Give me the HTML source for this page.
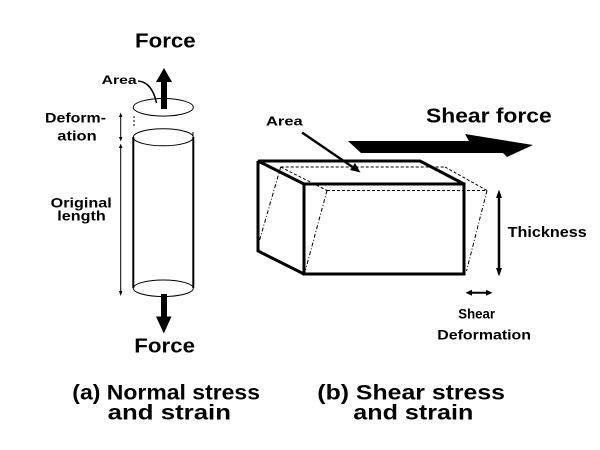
<!DOCTYPE html>
<html><head><meta charset="utf-8"><style>
html,body{margin:0;padding:0;background:#fff;}
svg{display:block;}
text{font-family:"Liberation Sans",Arial,sans-serif;font-weight:bold;fill:#000;}
</style></head><body>
<svg width="600" height="450" viewBox="0 0 600 450" xmlns="http://www.w3.org/2000/svg">
<rect width="600" height="450" fill="#fff"/>

<!-- ===== Left: normal stress ===== -->
<text x="135" y="47.3" font-size="20" textLength="60.7" lengthAdjust="spacingAndGlyphs">Force</text>
<!-- up arrow -->
<rect x="161" y="81" width="6" height="28" fill="#000"/>
<polygon points="156,82 164,68 172,82" fill="#000"/>
<!-- Area label + curved leader -->
<text x="101.7" y="84" font-size="12" textLength="35" lengthAdjust="spacingAndGlyphs">Area</text>
<path d="M138,81 Q152,82 156.5,103" fill="none" stroke="#000" stroke-width="1.5"/>
<!-- top separated disk -->
<ellipse cx="163.3" cy="107.3" rx="30" ry="8.8" fill="none" stroke="#000" stroke-width="1"/>
<line x1="134" y1="116" x2="134" y2="126" stroke="#000" stroke-width="1" stroke-dasharray="2,2"/>
<line x1="193" y1="132" x2="193" y2="136" stroke="#000" stroke-width="1"/>
<!-- cylinder -->
<ellipse cx="163.3" cy="137.3" rx="30" ry="8.5" fill="none" stroke="#000" stroke-width="1"/>
<line x1="133.3" y1="137" x2="133.3" y2="288" stroke="#000" stroke-width="2"/>
<line x1="193.3" y1="137" x2="193.3" y2="288" stroke="#000" stroke-width="2"/>
<ellipse cx="163.3" cy="288.3" rx="30" ry="8.3" fill="none" stroke="#000" stroke-width="1"/>
<!-- down arrow -->
<rect x="161" y="294" width="6" height="23" fill="#000"/>
<polygon points="156,316.5 163.8,333.5 171.5,316.5" fill="#000"/>
<text x="134.3" y="352.7" font-size="20" textLength="60.7" lengthAdjust="spacingAndGlyphs">Force</text>

<!-- Deformation dimension -->
<text x="45" y="122.3" font-size="14" textLength="61" lengthAdjust="spacingAndGlyphs">Deform-</text>
<text x="57.3" y="140.7" font-size="14" textLength="39.4" lengthAdjust="spacingAndGlyphs">ation</text>
<line x1="120.7" y1="115" x2="120.7" y2="139" stroke="#000" stroke-width="1"/>
<polygon points="119,117 120.7,112.5 122.4,117" fill="#000"/>
<polygon points="119,137 120.7,141.5 122.4,137" fill="#000"/>
<!-- Original length dimension -->
<text x="50.7" y="207.3" font-size="14" textLength="61" lengthAdjust="spacingAndGlyphs">Original</text>
<text x="57.3" y="220.5" font-size="14" textLength="48.4" lengthAdjust="spacingAndGlyphs">length</text>
<line x1="120.7" y1="146" x2="120.7" y2="294" stroke="#000" stroke-width="1"/>
<polygon points="119,148 120.7,143.5 122.4,148" fill="#000"/>
<polygon points="119,291 120.7,296 122.4,291" fill="#000"/>

<!-- ===== Right: shear stress ===== -->
<text x="426" y="122.7" font-size="20" textLength="125.7" lengthAdjust="spacingAndGlyphs">Shear force</text>
<polygon points="348,141 469,141 465,134 533,145 507,157 503,153 361,153" fill="#000"/>

<text x="266" y="125.7" font-size="12.5" textLength="36.7" lengthAdjust="spacingAndGlyphs">Area</text>
<line x1="302" y1="132.5" x2="354" y2="168" stroke="#000" stroke-width="2.3"/>
<polygon points="360.5,172.5 350,170 355,163" fill="#000"/>

<!-- dashed sheared box -->
<g fill="none" stroke="#000" stroke-width="1" stroke-dasharray="3,2">
<line x1="280.7" y1="167" x2="445" y2="167"/>
<line x1="445" y1="167" x2="487" y2="190.5"/>
<line x1="327" y1="190.5" x2="487" y2="190.5"/>
<line x1="280.7" y1="167" x2="327" y2="190.5"/>
</g>
<g fill="none" stroke="#000" stroke-width="1" stroke-dasharray="4,2,1,2">
<line x1="487" y1="190.5" x2="466.5" y2="271"/>
<line x1="327" y1="190.5" x2="305.5" y2="270"/>
<line x1="280.7" y1="167" x2="259" y2="242"/>
</g>

<!-- solid box -->
<g fill="none" stroke="#000" stroke-width="3" stroke-linejoin="miter">
<polyline points="304,184 258,161 420,161 464,184"/>
<polyline points="258,161 258,251 304,274"/>
<rect x="304" y="184" width="160" height="90"/>
</g>

<!-- Thickness -->
<line x1="499" y1="196" x2="499" y2="270" stroke="#000" stroke-width="2.5"/>
<polygon points="496,198 499,189.5 502,198" fill="#000"/>
<polygon points="496,268 499,276.5 502,268" fill="#000"/>
<text x="507.7" y="237" font-size="14.5" textLength="79" lengthAdjust="spacingAndGlyphs">Thickness</text>

<!-- Shear deformation -->
<line x1="470" y1="292.7" x2="488" y2="292.7" stroke="#000" stroke-width="2"/>
<polygon points="472,289.7 465.5,292.7 472,295.7" fill="#000"/>
<polygon points="486,289.7 492.5,292.7 486,295.7" fill="#000"/>
<text x="458.3" y="318.3" font-size="14" textLength="36.7" lengthAdjust="spacingAndGlyphs">Shear</text>
<text x="437.3" y="339.3" font-size="14" textLength="93.7" lengthAdjust="spacingAndGlyphs">Deformation</text>

<!-- captions -->
<text x="72.3" y="399.5" font-size="21" textLength="187.7" lengthAdjust="spacingAndGlyphs">(a) Normal stress</text>
<text x="107.7" y="419.5" font-size="21" textLength="123.3" lengthAdjust="spacingAndGlyphs">and strain</text>
<text x="317.3" y="399.5" font-size="21" textLength="187.7" lengthAdjust="spacingAndGlyphs">(b) Shear stress</text>
<text x="353.3" y="419.5" font-size="21" textLength="120" lengthAdjust="spacingAndGlyphs">and strain</text>
</svg>
</body></html>
